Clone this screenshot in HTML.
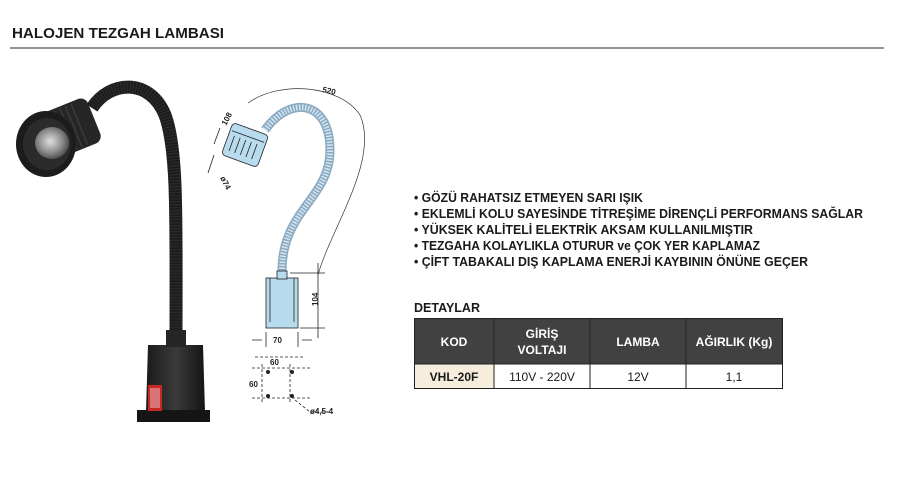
<!DOCTYPE html>
<html><head><meta charset="utf-8"><style>
html,body{margin:0;padding:0;background:#fff;}
svg{display:block;font-family:"Liberation Sans","DejaVu Sans",sans-serif;}
</style></head><body>
<svg width="897" height="491" viewBox="0 0 897 491" xmlns="http://www.w3.org/2000/svg">
<defs>
<radialGradient id="bulb" cx="0.45" cy="0.45" r="0.6"><stop offset="0" stop-color="#e0e0e0"/><stop offset="0.6" stop-color="#8a8a8a"/><stop offset="1" stop-color="#444"/></radialGradient>
<linearGradient id="base" x1="0" x2="1"><stop offset="0" stop-color="#1a1a1a"/><stop offset="0.5" stop-color="#3a3a3a"/><stop offset="1" stop-color="#151515"/></linearGradient>
</defs>
<text x="12" y="38" font-size="15" font-weight="bold" fill="#1a1a1a" textLength="212" lengthAdjust="spacingAndGlyphs">HALOJEN TEZGAH LAMBASI</text>
<line x1="10" y1="48" x2="884" y2="48" stroke="#555" stroke-width="1.2"/>

<!-- photo lamp -->
<path d="M92 108 C110 80 150 78 165 115 C178 150 176 220 176 345" fill="none" stroke="#1c1c1c" stroke-width="13"/>
<path d="M92 108 C110 80 150 78 165 115 C178 150 176 220 176 345" fill="none" stroke="#3a3a3a" stroke-width="13" stroke-dasharray="1 2" opacity="0.6"/>
<g transform="rotate(-22 60 130)">
<rect x="30" y="108" width="66" height="48" rx="8" fill="#262626"/>
<path d="M50 110 v44 M56 110 v44 M62 110 v44 M68 110 v44 M74 110 v44 M80 110 v44" stroke="#3a3a3a" stroke-width="1.5"/>
</g>
<ellipse cx="46" cy="144" rx="30" ry="33" fill="#1c1c1c"/>
<ellipse cx="47" cy="144" rx="24" ry="26" fill="#2b2b2b"/>
<ellipse cx="52" cy="143" rx="17" ry="16" fill="url(#bulb)"/>
<path d="M148 345 L203 345 L205 412 L146 412 Z" fill="url(#base)"/>
<rect x="137" y="410" width="73" height="12" fill="#151515"/>
<rect x="166" y="330" width="20" height="17" fill="#262626"/>
<rect x="148" y="385" width="14" height="26" fill="#c62828"/>
<rect x="150" y="388" width="10" height="20" fill="#fff" opacity="0.35"/>

<!-- blue drawing -->
<g stroke="#222" stroke-width="0.8" fill="none">
<path d="M265 130 C290 95 330 100 330 150 C330 200 280 210 282 275" stroke="#8aa9c0" stroke-width="9"/>
<path d="M265 130 C290 95 330 100 330 150 C330 200 280 210 282 275" stroke="#d2e6f2" stroke-width="6" stroke-dasharray="1.5 1.5"/>
<g transform="rotate(20 245 145)">
<rect x="226" y="128" width="38" height="34" rx="4" fill="#b9dbee"/>
<line x1="228" y1="136" x2="262" y2="136"/>
<path d="M232 140 v16 M238 140 v16 M244 140 v16 M250 140 v16 M256 140 v16"/>
</g>
<rect x="266" y="278" width="32" height="50" fill="#b9dbee"/>
<rect x="277" y="271" width="10" height="8" fill="#b9dbee"/>
<line x1="270" y1="278" x2="270" y2="322"/><line x1="294" y1="278" x2="294" y2="322"/>
<path d="M248 103 C280 80 340 85 360 115 C380 160 330 230 318 275" stroke="#333" stroke-width="0.7"/>
<path d="M290 273 h35 M300 328 h25 M318 263 v75"/>
<path d="M266 332 v15 M298 332 v15 M252 340 h10 M302 340 h10"/>
<path d="M255 357 h50 M262 364 v38 M290 364 v38 M252 368 h60 M252 398 h60 M295 400 l15 12 h20" stroke-dasharray="3 2"/>
<path d="M220 128 l-6 16 M214 155 l-6 18"/>
</g>
<g fill="#222"><circle cx="268" cy="372" r="2"/><circle cx="292" cy="372" r="2"/><circle cx="268" cy="396" r="2"/><circle cx="292" cy="396" r="2"/></g>
<g font-size="8" font-weight="bold" fill="#222">
<text x="322" y="92" transform="rotate(12 322 92)">520</text>
<text x="226" y="126" transform="rotate(-62 226 126)">108</text>
<text x="220" y="178" transform="rotate(62 220 178)">ø74</text>
<text x="318" y="306" transform="rotate(-90 318 306)">104</text>
<text x="273" y="343">70</text>
<text x="270" y="365">60</text>
<text x="249" y="387">60</text>
<text x="310" y="414">ø4,5-4</text>
</g>

<g font-size="12.5" font-weight="bold" fill="#1a1a1a">
<text x="414" y="202" textLength="229" lengthAdjust="spacingAndGlyphs">• GÖZÜ RAHATSIZ ETMEYEN SARI IŞIK</text>
<text x="414" y="218" textLength="449" lengthAdjust="spacingAndGlyphs">• EKLEMLİ KOLU SAYESİNDE TİTREŞİME DİRENÇLİ PERFORMANS SAĞLAR</text>
<text x="414" y="234" textLength="339" lengthAdjust="spacingAndGlyphs">• YÜKSEK KALİTELİ ELEKTRİK AKSAM KULLANILMIŞTIR</text>
<text x="414" y="250" textLength="346" lengthAdjust="spacingAndGlyphs">• TEZGAHA KOLAYLIKLA OTURUR ve ÇOK YER KAPLAMAZ</text>
<text x="414" y="266" textLength="394" lengthAdjust="spacingAndGlyphs">• ÇİFT TABAKALI DIŞ KAPLAMA ENERJİ KAYBININ ÖNÜNE GEÇER</text>
</g>

<text x="414" y="312" font-size="12.5" font-weight="bold" fill="#1a1a1a" textLength="66" lengthAdjust="spacingAndGlyphs">DETAYLAR</text>
<rect x="414" y="318" width="369" height="46" fill="#414141"/>
<rect x="414" y="364" width="80" height="25" fill="#f6eddd"/>
<g stroke="#222" stroke-width="1" fill="none">
<rect x="414.5" y="318.5" width="368" height="70"/>
<line x1="414" y1="364" x2="783" y2="364"/>
<line x1="494" y1="318" x2="494" y2="389"/><line x1="590" y1="318" x2="590" y2="389"/><line x1="686" y1="318" x2="686" y2="389"/>
</g>
<g font-size="12" font-weight="bold" fill="#fff" text-anchor="middle">
<text x="454" y="346">KOD</text>
<text x="542" y="338">GİRİŞ</text>
<text x="542" y="354">VOLTAJI</text>
<text x="638" y="346">LAMBA</text>
<text x="734" y="346">AĞIRLIK (Kg)</text>
</g>
<g font-size="12" fill="#1a1a1a" text-anchor="middle">
<text x="454" y="381" font-weight="bold">VHL-20F</text>
<text x="542" y="381">110V - 220V</text>
<text x="638" y="381">12V</text>
<text x="734" y="381">1,1</text>
</g>
</svg>
</body></html>
